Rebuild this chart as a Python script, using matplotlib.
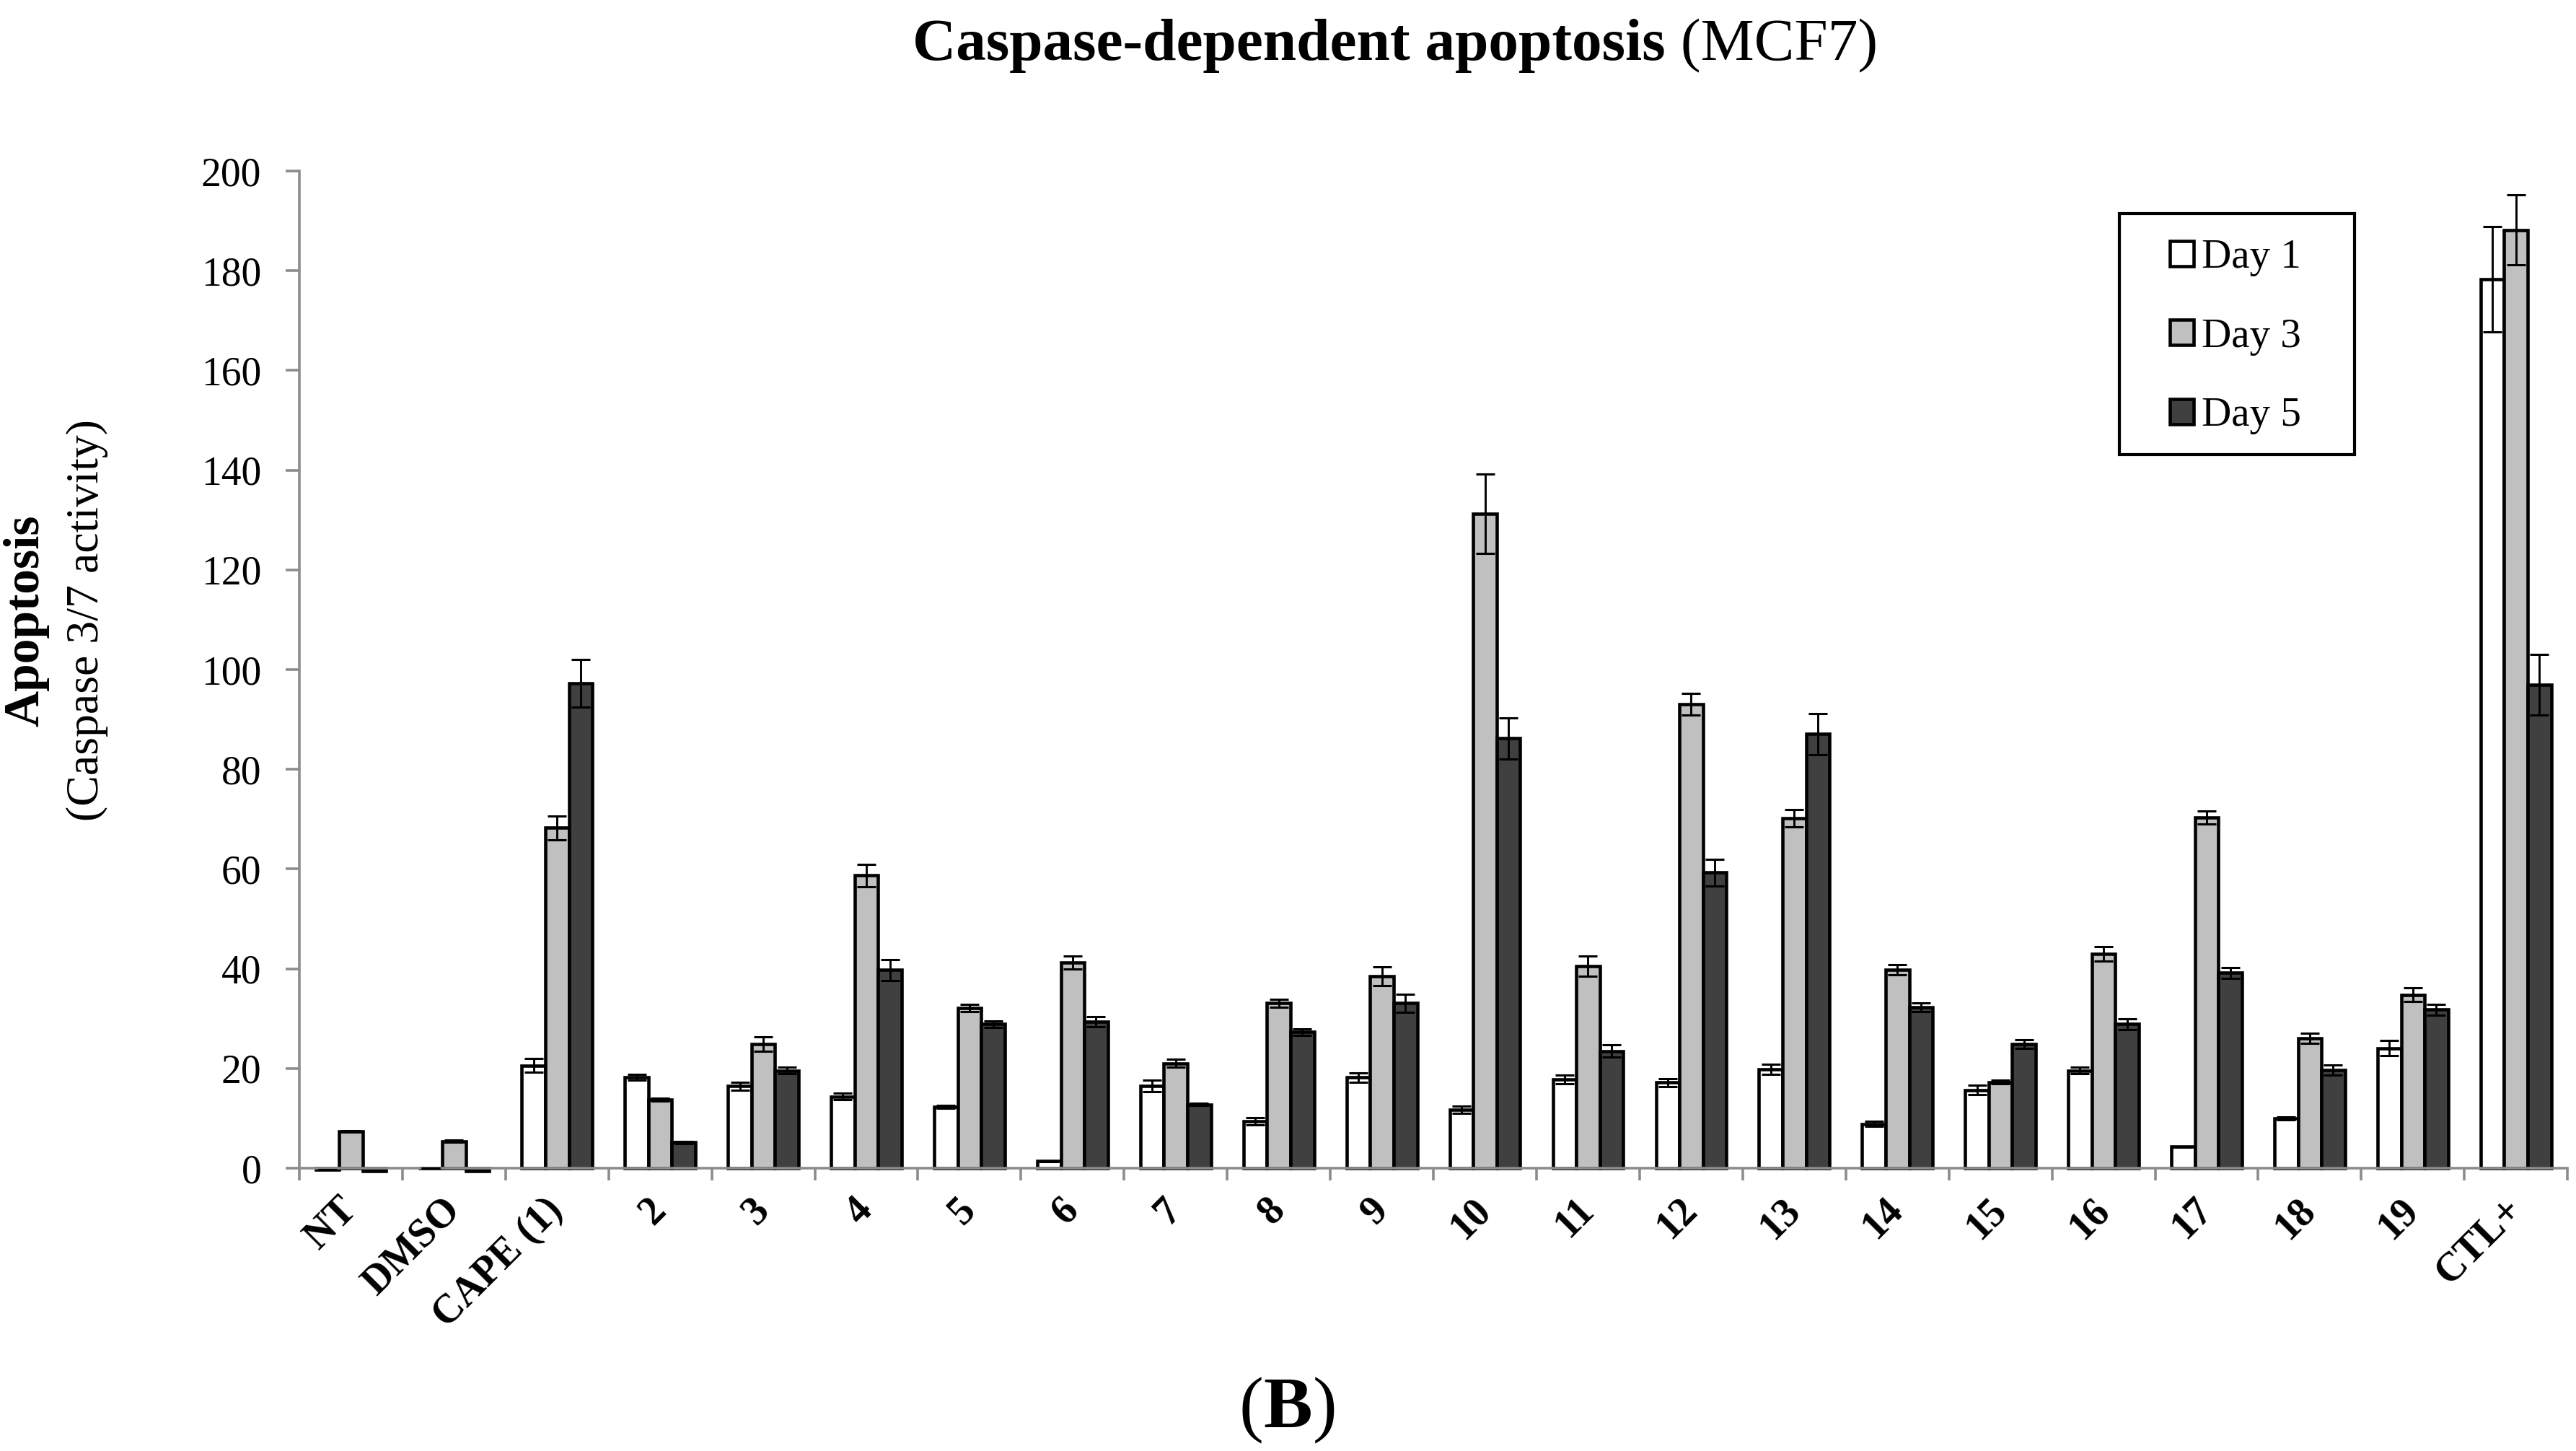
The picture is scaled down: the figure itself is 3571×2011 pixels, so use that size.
import numpy as np
import matplotlib
matplotlib.use("Agg")
import matplotlib.pyplot as plt
from matplotlib.patches import Rectangle

plt.rcParams['font.family'] = ['Liberation Serif', 'DejaVu Serif']

# ---------------- data ----------------
categories = ['NT', 'DMSO', 'CAPE (1)', '2', '3', '4', '5', '6', '7', '8', '9', '10',
              '11', '12', '13', '14', '15', '16', '17', '18', '19', 'CTL+']
day1 = [-0.3, 0.0, 20.6, 18.2, 16.5, 14.4, 12.3, 1.4, 16.5, 9.4, 18.2, 11.7,
        17.8, 17.2, 19.8, 8.9, 15.7, 19.6, 4.3, 10.0, 24.1, 178.3]
day1_err = [0, 0, 1.4, 0.6, 0.8, 0.6, 0.3, 0.1, 1.1, 0.7, 0.9, 0.7,
            0.9, 0.8, 1.0, 0.5, 0.9, 0.7, 0.1, 0.3, 1.5, 10.5]
day3 = [7.4, 5.4, 68.3, 13.7, 24.9, 58.7, 32.1, 41.3, 21.0, 33.1, 38.5, 131.3,
        40.5, 93.1, 70.2, 39.8, 17.3, 43.0, 70.4, 26.1, 34.8, 188.2]
day3_err = [0.2, 0.2, 2.4, 0.3, 1.5, 2.2, 0.7, 1.3, 0.8, 0.8, 1.9, 8.0,
            2.0, 2.2, 1.8, 1.0, 0.3, 1.5, 1.3, 1.0, 1.4, 7.0]
day5 = [-0.6, -0.5, 97.3, 5.2, 19.6, 39.8, 28.9, 29.4, 12.8, 27.3, 33.1, 86.2,
        23.5, 59.3, 87.1, 32.3, 24.9, 28.9, 39.2, 19.7, 31.8, 97.0]
day5_err = [0, 0, 4.8, 0.2, 0.6, 2.1, 0.7, 1.0, 0.2, 0.7, 1.8, 4.1,
            1.2, 2.7, 4.1, 0.9, 0.9, 1.1, 1.1, 1.0, 1.1, 6.1]
series_names = ['Day 1', 'Day 3', 'Day 5']
y_ticks = [0, 20, 40, 60, 80, 100, 120, 140, 160, 180, 200]

# ---------------- style ----------------
colors = ['#FFFFFF', '#C0C0C0', '#404040']
axis_gray = '#8C8C8C'
W, H, DPI = 35.71, 20.11, 100

fig = plt.figure(figsize=(W, H), dpi=DPI)
ax = fig.add_axes([0.1162, 0.1949, 0.9967 - 0.1162, 0.8821 - 0.1949])

x = np.arange(len(categories))
bw = 0.228
series = [(day1, day1_err), (day3, day3_err), (day5, day5_err)]
handles = []
for i, ((vals, errs), c, name) in enumerate(zip(series, colors, series_names)):
    pos = x + (i - 1) * bw
    b = ax.bar(pos, vals, width=bw, color=c, edgecolor='black', linewidth=3.3,
               label=name, clip_on=False, zorder=1)
    handles.append(b)
    ax.errorbar(pos, vals, yerr=errs, fmt='none', ecolor='black', elinewidth=2.1,
                capsize=9.4, capthick=2.2, clip_on=False, zorder=3)

ax.set_xlim(-0.5, len(categories) - 0.5)
ax.set_ylim(0, 200)
ax.set_yticks(y_ticks)
ax.set_yticklabels([str(v) for v in y_ticks], fontsize=40)

for s in ['top', 'right']:
    ax.spines[s].set_visible(False)
for s in ['left', 'bottom']:
    ax.spines[s].set_color(axis_gray)
    ax.spines[s].set_linewidth(2.6)
ax.spines['bottom'].set_position(('data', 0))

ax.tick_params(axis='y', direction='out', length=14, width=2.6, color=axis_gray,
               pad=24, labelcolor='black')
ax.set_xticks(x)
ax.set_xticklabels(categories, fontsize=40, fontweight='bold', rotation=45,
                   ha='right', va='center', rotation_mode='anchor')
ax.tick_params(axis='x', which='major', length=0, pad=36)
ax.set_xticks(np.arange(-0.5, len(categories), 1.0), minor=True)
ax.tick_params(axis='x', which='minor', direction='out', length=12, width=2.6,
               color=axis_gray)

# ---------------- legend ----------------
fig.patches.append(Rectangle((0.8227, 0.6867), 0.9140 - 0.8227, 0.8528 - 0.6867,
                             transform=fig.transFigure, facecolor='white',
                             edgecolor='black', linewidth=3.0, zorder=4))
leg = fig.legend(handles=handles, labels=series_names, loc='center left',
                 bbox_to_anchor=(0.8423, 0.7678), frameon=False, fontsize=41,
                 handlelength=0.58, handleheight=0.56, handletextpad=0.2,
                 labelspacing=1.01, borderpad=0, borderaxespad=0)
leg.set_zorder(5)

# ---------------- texts ----------------
def compose(parts, cx, y, size):
    renderer = fig.canvas.get_renderer()
    objs = []
    for txt, wt in parts:
        t = fig.text(0, y, txt, fontsize=size, fontweight=wt, ha='left', va='baseline')
        objs.append(t)
    widths = [t.get_window_extent(renderer).width for t in objs]
    total = sum(widths)
    figw = fig.get_figwidth() * fig.dpi
    xpix = cx * figw - total / 2
    for t, w in zip(objs, widths):
        t.set_x(xpix / figw)
        xpix += w

compose([('Caspase-dependent apoptosis', 'bold'), (' (MCF7)', 'normal')], 0.5416, 0.9587, 60)
compose([('(', 'normal'), ('B', 'bold'), (')', 'normal')], 0.5, 0.016, 73)

fig.text(0.0101, 0.5724, 'Apoptosis', rotation=90, fontsize=50, fontweight='bold',
         ha='center', va='center')
fig.text(0.034, 0.5724, '(Caspase 3/7 activity)', rotation=90, fontsize=46,
         ha='center', va='center')

fig.savefig('out.png', dpi=DPI)
